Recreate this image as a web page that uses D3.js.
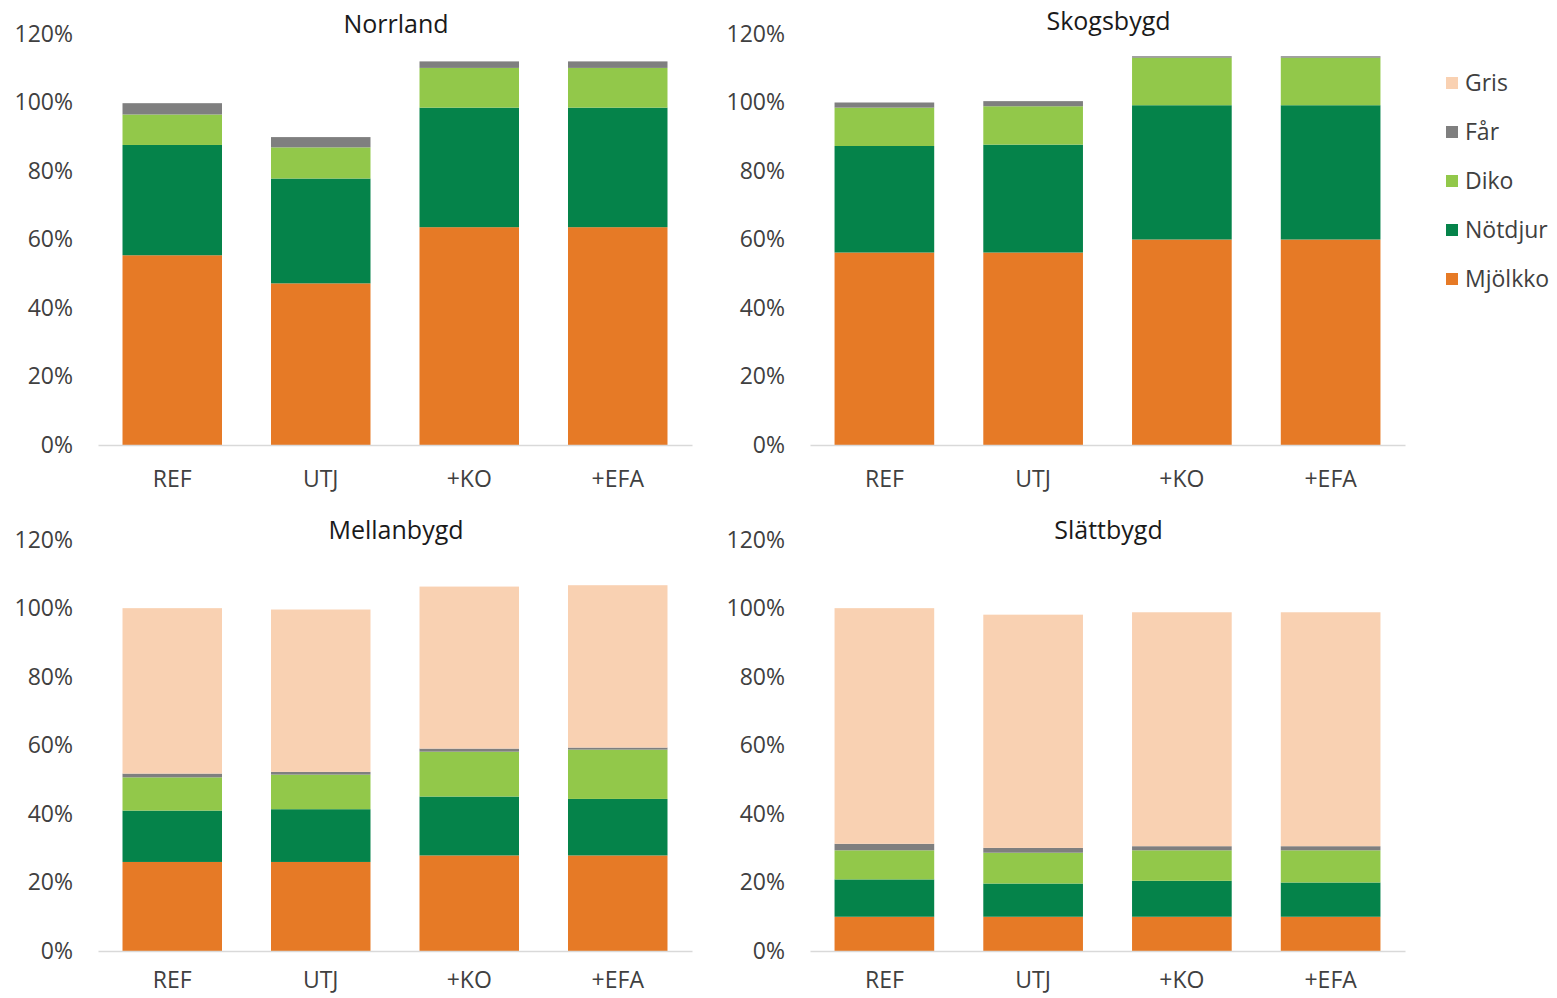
<!DOCTYPE html>
<html>
<head>
<meta charset="utf-8">
<script src="https://cdn.jsdelivr.net/npm/d3@7"></script>
<style>
  body { margin: 0; background: #fff; }
  text { font-family: "Open Sans", sans-serif; }
</style>
</head>
<body>
<svg id="chart" width="1557" height="998"></svg>
<script>
// data (percent)
var regions = ["Norrland", "Skogsbygd", "Mellanbygd", "Slättbygd"];
var scenarios = ["REF", "UTJ", "+KO", "+EFA"];
var series = ["Mjölkko", "Nötdjur", "Diko", "Får", "Gris"];
var yTicks = [0, 20, 40, 60, 80, 100, 120];

// one row per region, one value per scenario
var mjolkko = [[55.4, 47.2, 63.6, 63.6], [56.2, 56.2, 60.0, 60.0], [26.0, 26.0, 27.9, 27.9], [10.0, 10.0, 10.0, 10.0]];
var notdjur = [[32.2, 30.6, 34.9, 34.9], [31.1, 31.5, 39.2, 39.2], [15.0, 15.4, 17.2, 16.5], [10.9, 9.7, 10.5, 10.0]];
var diko    = [[8.9, 9.1, 11.6, 11.6], [11.2, 11.2, 13.9, 13.9], [9.7, 10.1, 13.1, 14.4], [8.5, 9.0, 8.9, 9.4]];
var far     = [[3.3, 3.0, 1.9, 1.9], [1.5, 1.5, 0.4, 0.4], [1.1, 0.8, 0.9, 0.6], [1.9, 1.4, 1.2, 1.2]];
var gris    = [[0, 0, 0, 0], [0, 0, 0, 0], [48.3, 47.4, 47.3, 47.4], [68.8, 68.1, 68.3, 68.3]];

var colors = ["#e67a26", "#05834a", "#92c84a", "#7f7f7f", "#f9d1b2"];
var allSeries = [mjolkko, notdjur, diko, far, gris];

var svg = d3.select("#chart");

// panel frames: left/right of the axis line, top (120%) and bottom (0%)
var panels = [
  {x0: 98, x1: 692, y0: 445, y1: 34, titleY: 33, pad: 26},
  {x0: 810, x1: 1405, y0: 445, y1: 34, titleY: 30, pad: 26},
  {x0: 98, x1: 692, y0: 951, y1: 540, titleY: 539, pad: 21},
  {x0: 810, x1: 1405, y0: 951, y1: 540, titleY: 539, pad: 21}
];

regions.forEach(function(name, r) {
  var p = panels[r];
  var x = d3.scaleBand().domain(scenarios).range([p.x0, p.x1])
            .paddingInner(0.33).paddingOuter(0.165);
  var y = d3.scaleLinear().domain([0, 120]).range([p.y0, p.y1]);

  var rows = scenarios.map(function(s, i) {
    var o = {scen: s};
    series.forEach(function(k, j) { o[k] = allSeries[j][r][i]; });
    return o;
  });
  var stacked = d3.stack().keys(series)(rows);

  var g = svg.append("g");

  g.selectAll("g.layer")
    .data(stacked)
    .enter().append("g")
    .attr("fill", function(d, j) { return colors[j]; })
    .selectAll("rect")
    .data(function(d) { return d; })
    .enter().append("rect")
    .attr("x", function(d) { return x(d.data.scen); })
    .attr("width", x.bandwidth())
    .attr("y", function(d) { return y(d[1]); })
    .attr("height", function(d) { return y(d[0]) - y(d[1]); });

  // y axis labels only, no line
  var yAxis = d3.axisLeft(y).tickValues(yTicks).tickSize(0).tickPadding(0)
                .tickFormat(function(d) { return d + "%"; });
  var ya = g.append("g").attr("transform", "translate(" + (p.x0 - 25) + ",0)").call(yAxis);
  ya.select(".domain").remove();
  ya.selectAll("text").attr("font-size", 23).attr("fill", "#404040")
    .attr("font-family", "'Open Sans', sans-serif");

  // x axis
  var xAxis = d3.axisBottom(x).tickSize(0).tickPadding(p.pad);
  var xa = g.append("g").attr("transform", "translate(0," + p.y0 + ")").call(xAxis);
  xa.select(".domain").attr("stroke", "#d9d9d9").attr("stroke-width", 1.5);
  xa.selectAll("text").attr("font-size", 23).attr("fill", "#404040")
    .attr("font-family", "'Open Sans', sans-serif");

  g.append("text")
    .attr("x", (p.x0 + p.x1) / 2 + 1)
    .attr("y", p.titleY)
    .attr("text-anchor", "middle")
    .attr("font-size", 25)
    .attr("fill", "#1a1a1a")
    .text(name);
});

// legend, top to bottom: Gris .. Mjölkko
var legend = svg.append("g").attr("transform", "translate(1446,0)");
var legendItems = series.slice().reverse();
legendItems.forEach(function(k, i) {
  var cy = 83 + i * 49;
  legend.append("rect").attr("x", 0).attr("y", cy - 6).attr("width", 12).attr("height", 12)
    .attr("fill", colors[series.indexOf(k)]);
  legend.append("text").attr("x", 19).attr("y", cy).attr("dy", "0.35em")
    .attr("font-size", 23).attr("fill", "#404040").text(k);
});
</script>
</body>
</html>
